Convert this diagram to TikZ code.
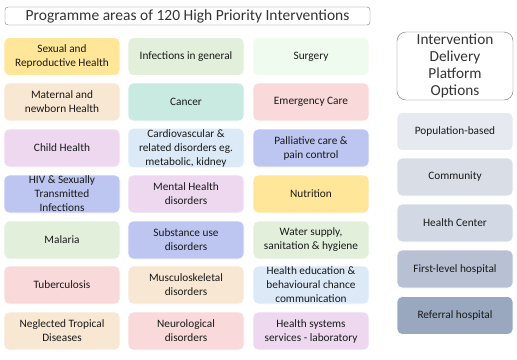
\documentclass[tikz,border=0pt]{standalone}
\usepackage{fontspec}
\setmainfont{Carlito}
\usepackage{xcolor}

\definecolor{cGold}{HTML}{FFE699}
\definecolor{cGreen}{HTML}{E2EFDA}
\definecolor{cMint}{HTML}{EEFBEE}
\definecolor{cPeach}{HTML}{F8E7D2}
\definecolor{cTeal}{HTML}{C8EAE0}
\definecolor{cPink}{HTML}{F9D9D9}
\definecolor{cLilac}{HTML}{EDD8F0}
\definecolor{cSky}{HTML}{DCEAF7}
\definecolor{cBlue}{HTML}{BDC6F1}
\definecolor{pOne}{HTML}{E6E9F0}
\definecolor{pTwo}{HTML}{D9DDE6}
\definecolor{pThree}{HTML}{D3D9E4}
\definecolor{pFour}{HTML}{B8C1D3}
\definecolor{pFive}{HTML}{9AA8BF}

\tikzset{
  area/.style={rounded corners=5pt, minimum width=116pt, minimum height=38pt,
    align=center, fill=#1, draw=white, line width=0.8pt, inner sep=1pt,
    font=\fontsize{11.3}{14}\selectfont, text=black!90},
  platform/.style={area=#1},
  heading/.style={draw=black!55, align=center, text=black!80}
}

\begin{document}
\begin{tikzpicture}[x=1pt, y=-1pt]
  \useasboundingbox (0,0) rectangle (517,359);

  % Title
  \node[heading, rounded corners=3pt, minimum width=365pt, minimum height=18pt,
    inner sep=0pt, font=\fontsize{15.5}{16}\selectfont] (title) at (187.5,16)
    {Programme areas of 120 High Priority Interventions};

  % Row 1
  \node[area=cGold] (srh) at (62,56.5) {Sexual and\\Reproductive Health};
  \node[area=cGreen] (infect) at (186,56.5) {Infections in general};
  \node[area=cMint] (surgery) at (311,56.5) {Surgery};

  % Row 2
  \node[area=cPeach] (maternal) at (62,102) {Maternal and\\newborn Health};
  \node[area=cTeal] (cancer) at (186,102) {Cancer};
  \node[area=cPink] (emergency) at (311,102) {Emergency Care};

  % Row 3
  \node[area=cLilac] (child) at (62,148) {Child Health};
  \node[area=cSky] (cardio) at (186,148) {Cardiovascular \&\\related disorders eg.\\metabolic, kidney};
  \node[area=cBlue] (palliative) at (311,148) {Palliative care \&\\pain control};

  % Row 4
  \node[area=cBlue] (hiv) at (62,194) {HIV \& Sexually\\Transmitted\\Infections};
  \node[area=cLilac] (mental) at (186,194) {Mental Health\\disorders};
  \node[area=cGold] (nutrition) at (311,194) {Nutrition};

  % Row 5
  \node[area=cGreen] (malaria) at (62,240) {Malaria};
  \node[area=cBlue] (substance) at (186,240) {Substance use\\disorders};
  \node[area=cGreen] (water) at (311,240) {Water supply,\\sanitation \& hygiene};

  % Row 6
  \node[area=cPink] (tb) at (62,285) {Tuberculosis};
  \node[area=cPeach] (musculo) at (186,285) {Musculoskeletal\\disorders};
  \node[area=cSky] (education) at (311,285) {Health education \&\\behavioural chance\\communication};

  % Row 7
  \node[area=cPeach] (ntd) at (62,331) {Neglected Tropical\\Diseases};
  \node[area=cPink] (neuro) at (186,331) {Neurological\\disorders};
  \node[area=cLilac] (systems) at (311,331) {Health systems\\services - laboratory};

  % Delivery platforms
  \node[heading, rounded corners=9pt, minimum width=116pt, minimum height=68pt,
    font=\fontsize{15.3}{17}\selectfont, inner sep=0pt] (platforms) at (455,66)
    {Intervention\\Delivery\\Platform\\Options};
  \node[platform=pOne] (population) at (455,131.5) {Population-based};
  \node[platform=pTwo] (community) at (455,177) {Community};
  \node[platform=pThree] (centre) at (455,223) {Health Center};
  \node[platform=pFour] (firstlevel) at (455,269) {First-level hospital};
  \node[platform=pFive] (referral) at (455,315.5) {Referral hospital};
\end{tikzpicture}
\end{document}
